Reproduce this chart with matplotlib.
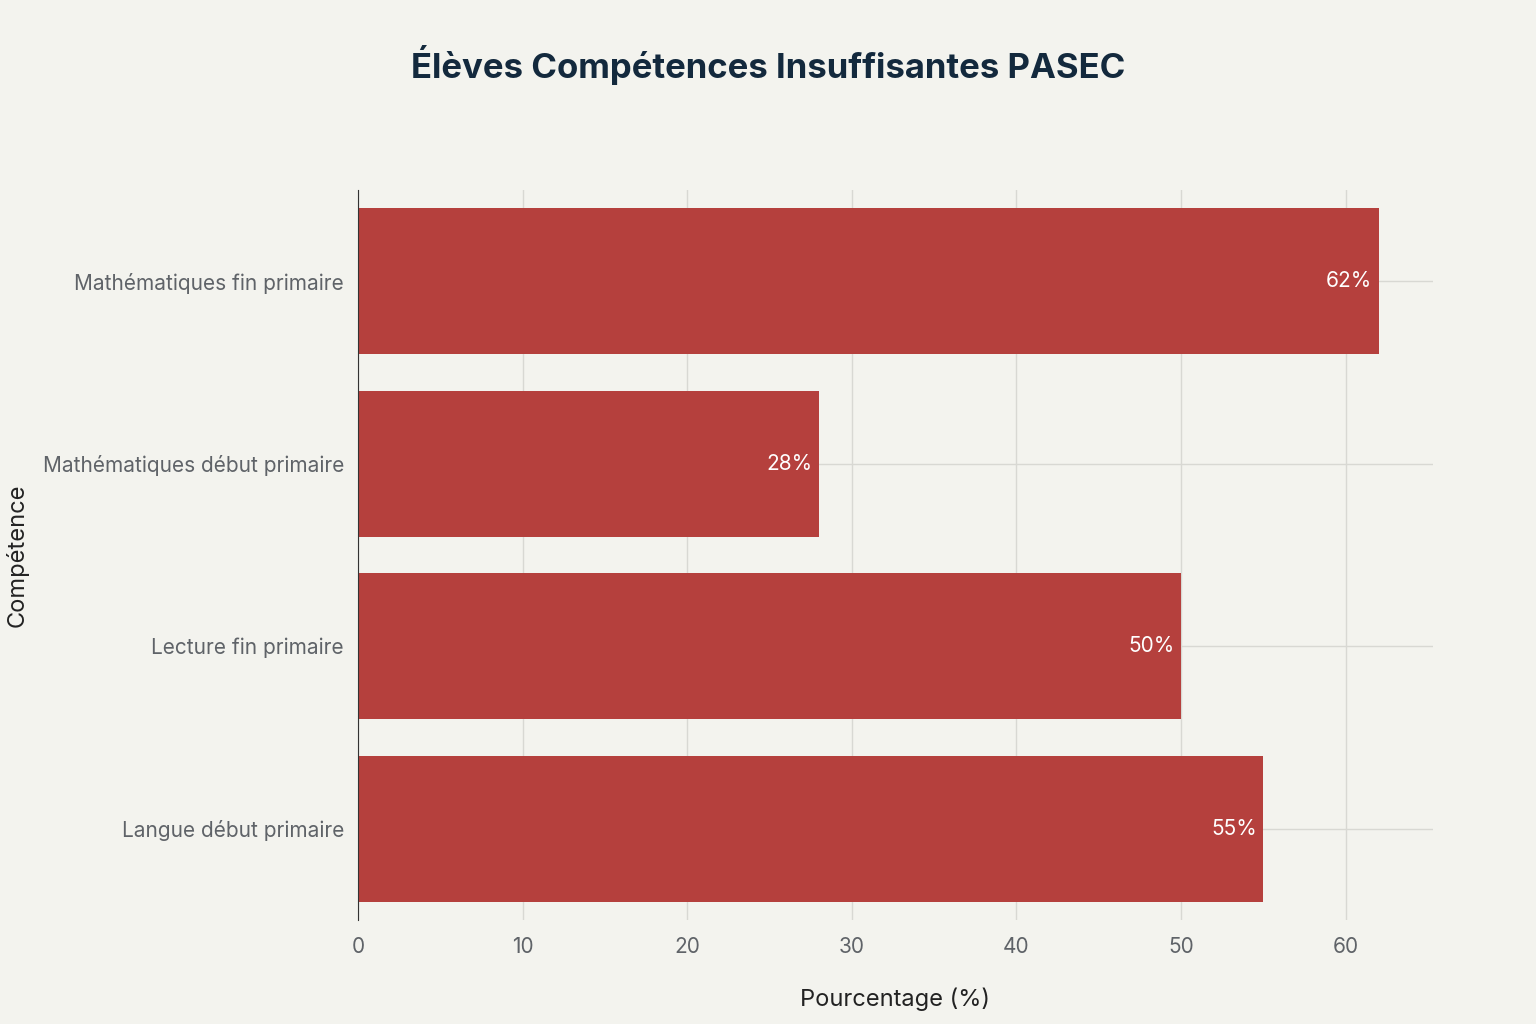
import matplotlib.pyplot as plt

# Data (bottom to top)
categories = ["Langue début primaire", "Lecture fin primaire",
              "Mathématiques début primaire", "Mathématiques fin primaire"]
values = [55, 50, 28, 62]

plt.rcParams["font.family"] = ["Inter", "DejaVu Sans"]
bg = "#F3F3EE"

fig = plt.figure(figsize=(15.36, 10.24), dpi=100, facecolor=bg)
ax = fig.add_axes([358 / 1536, 1 - 920 / 1024, (1433 - 358) / 1536, (920 - 190) / 1024])
ax.set_facecolor(bg)

bars = ax.barh(range(len(categories)), values, height=0.8, color="#B5403D", zorder=2)
for bar, v in zip(bars, values):
    ax.text(v - 0.4, bar.get_y() + bar.get_height() / 2, f"{v}%",
            ha="right", va="center", color="white", fontsize=15, zorder=3)

ax.set_yticks(range(len(categories)))
ax.set_yticklabels(categories)
ax.set_xlim(0, 65.3)
ax.set_ylim(-0.5, 3.5)
ax.set_xticks(range(0, 61, 10))
ax.grid(color="#D8D8D3", linewidth=1, zorder=0)
ax.tick_params(axis="both", length=0, labelsize=15, labelcolor="#5F6368", pad=10)
ax.tick_params(axis="x", pad=12)
for side in ["top", "right", "bottom"]:
    ax.spines[side].set_visible(False)
ax.spines["left"].set_color("#333333")

ax.set_xlabel("Pourcentage (%)", fontsize=17, color="#222222", labelpad=22)
fig.text(17 / 1536, 1 - 555 / 1024, "Compétence", rotation=90, fontsize=17,
         color="#222222", ha="center", va="center")
fig.text(0.5, 1 - 65 / 1024, "Élèves Compétences Insuffisantes PASEC",
         ha="center", va="center", fontsize=25, fontweight="bold", color="#13293D")

fig.savefig("out.png", dpi=100, facecolor=bg)
